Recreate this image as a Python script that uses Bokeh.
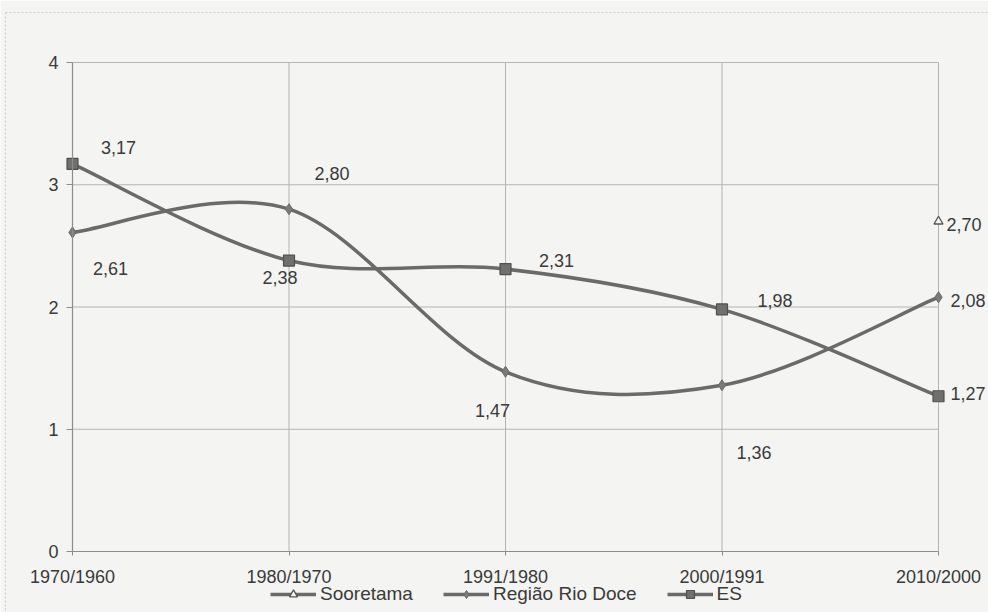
from bokeh.plotting import figure
from bokeh.models import (ColumnDataSource, Range1d, FixedTicker, Legend, LegendItem, Span)
from bokeh.core.properties import value
from bokeh.embed import file_html
from bokeh.resources import INLINE

# ---- data ----
categories = ["1970/1960", "1980/1970", "1991/1980", "2000/1991", "2010/2000"]
sooretama = [None, None, None, None, 2.70]
rio_doce = [2.61, 2.80, 1.47, 1.36, 2.08]
es = [3.17, 2.38, 2.31, 1.98, 1.27]
y_ticks = [0, 1, 2, 3, 4]

FONT = "Liberation Sans"
LINE = "#6a6a6a"
BG = "#f4f4f2"
TXT = "#3a3a3a"
GRID = "#b4b4b4"
FS = "18px"

W, H = 988, 612
# layout (pixels): frame edges and where the data extent sits
FL, FT, FR, FB = 5, 12, 988, 612
PX_XA, PX_XB = 72, 938       # first / last category
PX_YTOP, PX_Y0 = 62, 551     # y = 4 / y = 0

xs = list(range(len(categories)))
n_last = len(categories) - 1
y_max = y_ticks[-1]
kx = (PX_XB - PX_XA) / n_last
ky = (PX_Y0 - PX_YTOP) / y_max
x_range = Range1d(0 - (PX_XA - FL) / kx, n_last + (FR - PX_XB) / kx)
y_range = Range1d(0 - (FB - PX_Y0) / ky, y_max + (PX_YTOP - FT) / ky)

p = figure(width=W, height=H, output_backend="svg", toolbar_location=None,
           x_range=x_range, y_range=y_range,
           min_border_left=FL, min_border_right=W - FR, min_border_top=FT,
           min_border_bottom=H - FB)
p.background_fill_color = BG
p.border_fill_color = BG
p.outline_line_color = None
p.xgrid.visible = False
p.ygrid.visible = False

# dotted chart border (top and left edges of the frame)
for loc, dim in ((x_range.start, "height"), (y_range.end, "width")):
    p.add_layout(Span(location=loc, dimension=dim, line_color="#a0a0a0",
                      line_dash="2 2", line_width=1))

# axes pinned at data zero
p.xaxis.fixed_location = 0
p.yaxis.fixed_location = 0
p.xaxis.bounds = (0, n_last)
p.yaxis.bounds = (0, y_max)
p.xaxis.ticker = FixedTicker(ticks=xs)
p.xaxis.major_label_overrides = {i: c for i, c in enumerate(categories)}
p.yaxis.ticker = FixedTicker(ticks=y_ticks)
for ax in (p.xaxis, p.yaxis):
    ax.axis_line_color = "#8c8c8c"
    ax.axis_line_width = 1.2
    ax.major_tick_line_color = "#8c8c8c"
    ax.major_tick_in = 0
    ax.minor_tick_line_color = None
    ax.major_label_text_font = FONT
    ax.major_label_text_font_size = FS
    ax.major_label_text_color = TXT
p.xaxis.major_tick_out = 4
p.xaxis.major_label_standoff = 11
p.yaxis.major_tick_out = 6
p.yaxis.major_label_standoff = 8

# gridlines (bounded to the data extent)
p.segment(x0=xs[1:], y0=[0] * n_last, x1=xs[1:], y1=[y_max] * n_last,
          line_color=GRID, line_width=1)
p.segment(x0=[0] * (len(y_ticks) - 1), y0=y_ticks[1:],
          x1=[n_last] * (len(y_ticks) - 1), y1=y_ticks[1:],
          line_color=GRID, line_width=1)


def smooth(xv, yv):
    pts = [(x, y) for x, y in zip(xv, yv) if y is not None]
    n = len(pts)
    d = dict(x0=[], y0=[], x1=[], y1=[], cx0=[], cy0=[], cx1=[], cy1=[])
    for i in range(n - 1):
        p0 = pts[i - 1] if i > 0 else pts[i]
        p1 = pts[i]
        p2 = pts[i + 1]
        p3 = pts[i + 2] if i + 2 < n else pts[i + 1]
        d["x0"].append(p1[0]); d["y0"].append(p1[1])
        d["x1"].append(p2[0]); d["y1"].append(p2[1])
        d["cx0"].append(p1[0] + (p2[0] - p0[0]) / 6)
        d["cy0"].append(p1[1] + (p2[1] - p0[1]) / 6)
        d["cx1"].append(p2[0] - (p3[0] - p1[0]) / 6)
        d["cy1"].append(p2[1] - (p3[1] - p1[1]) / 6)
    return ColumnDataSource(d)


b_rio = p.bezier(x0="x0", y0="y0", x1="x1", y1="y1", cx0="cx0", cy0="cy0",
                 cx1="cx1", cy1="cy1", source=smooth(xs, rio_doce),
                 line_color=LINE, line_width=3.5)
b_es = p.bezier(x0="x0", y0="y0", x1="x1", y1="y1", cx0="cx0", cy0="cy0",
                cx1="cx1", cy1="cy1", source=smooth(xs, es),
                line_color=LINE, line_width=3.5)
l_soo = p.line(xs, [float("nan") if v is None else v for v in sooretama],
               line_color=LINE, line_width=3.5)


def pts(series):
    return ColumnDataSource(dict(x=[x for x, y in zip(xs, series) if y is not None],
                                 y=[y for y in series if y is not None]))


s_soo = p.scatter("x", "y", source=pts(sooretama), marker="triangle", size=9,
                  fill_color=BG, line_color="#555555", line_width=1.3)
s_rio = p.scatter("x", "y", source=pts(rio_doce), marker="diamond", size=11,
                  fill_color="#7a7a7a", line_color="#6a6a6a", line_width=1)
s_es = p.scatter("x", "y", source=pts(es), marker="square", size=11,
                 fill_color="#707070", line_color="#505050", line_width=1.2)


# ---- data labels ----
def fmt(v):
    return f"{v:.2f}".replace(".", ",")


# (series, index, dx, dy, align)
label_spec = [
    (es, 0, 46, -16, "center"), (rio_doce, 0, 38, 36, "center"),
    (rio_doce, 1, 43, -36, "center"), (es, 1, -9, 17, "center"),
    (es, 2, 51, -9, "center"), (rio_doce, 2, -13, 39, "center"),
    (es, 3, 53, -9, "center"), (rio_doce, 3, 32, 67, "center"),
    (sooretama, 4, 8, 3, "left"), (rio_doce, 4, 12, 3, "left"),
    (es, 4, 12, -3, "left"),
]
for align in ("center", "left"):
    sel = [s for s in label_spec if s[4] == align]
    src = ColumnDataSource(dict(
        x=[xs[i] for _, i, _, _, _ in sel],
        y=[ser[i] for ser, i, _, _, _ in sel],
        t=[fmt(ser[i]) for ser, i, _, _, _ in sel],
        dx=[d for _, _, d, _, _ in sel],
        dy=[d for _, _, _, d, _ in sel]))
    p.text("x", "y", text="t", source=src, x_offset="dx", y_offset="dy",
           text_font=value(FONT), text_font_size=FS, text_color=TXT,
           text_align=align, text_baseline="middle")

legend = Legend(items=[
    LegendItem(label="Sooretama", renderers=[l_soo, s_soo]),
    LegendItem(label="Região Rio Doce", renderers=[b_rio, s_rio]),
    LegendItem(label="ES", renderers=[b_es, s_es]),
], orientation="horizontal", location=(265, 7))
legend.background_fill_alpha = 0
legend.border_line_color = None
legend.padding = 0
legend.margin = 0
legend.spacing = 30
legend.glyph_width = 46
legend.glyph_height = 20
legend.label_standoff = 4
legend.label_text_font = FONT
legend.label_text_font_size = "19px"
legend.label_text_color = TXT
p.add_layout(legend, "center")

open("out.html", "w").write(file_html(p, INLINE))
